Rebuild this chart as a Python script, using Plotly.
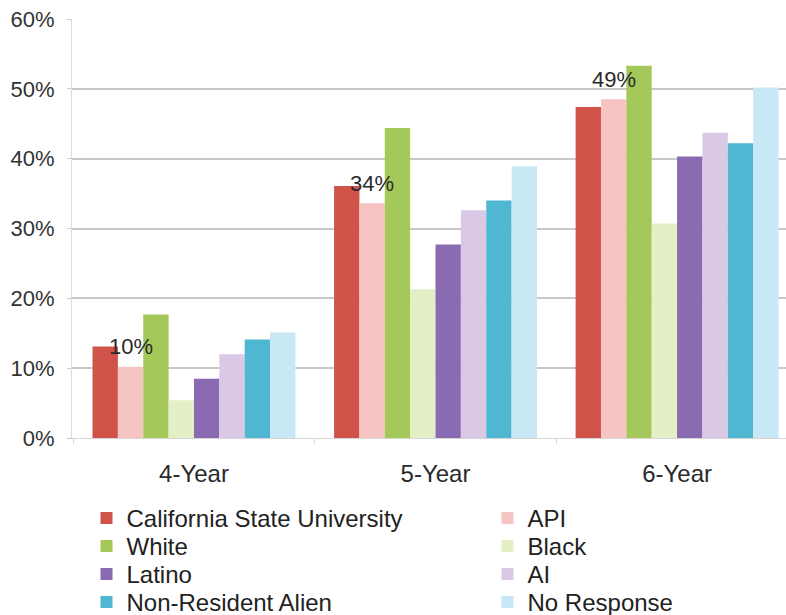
import plotly.graph_objects as go

categories = ["4-Year", "5-Year", "6-Year"]
series_names = ["California State University", "API", "White", "Black",
                "Latino", "AI", "Non-Resident Alien", "No Response"]
csu = [13.1, 36.1, 47.4]
api = [10.2, 33.6, 48.5]
white = [17.7, 44.4, 53.3]
black = [5.4, 21.3, 30.7]
latino = [8.5, 27.7, 40.3]
ai = [12.0, 32.6, 43.7]
nra = [14.1, 34.0, 42.2]
no_response = [15.1, 38.9, 50.2]
api_labels = ["10%", "34%", "49%"]
y_ticks = [0, 10, 20, 30, 40, 50, 60]
y_tick_labels = ["0%", "10%", "20%", "30%", "40%", "50%", "60%"]

series_values = [csu, api, white, black, latino, ai, nra, no_response]
colors = ["#d0534a", "#f6c4c2", "#a4c859", "#e4efc6",
          "#8a6bb1", "#dac9e4", "#50b7d3", "#c8e8f6"]

FONT = "Liberation Sans, Arial, sans-serif"
W, H = 786, 615
# plot area in page pixels
P_LEFT, P_TOP, P_BOTTOM, P_RIGHT = 72, 19, 438, 786
ml, mt, mb, mr = P_LEFT, P_TOP, H - P_BOTTOM, W - P_RIGHT
plot_w, plot_h = P_RIGHT - P_LEFT, P_BOTTOM - P_TOP
xr = [-0.505, 2.451]
bargap = 0.16

# legend layout: two columns, four rows (row-major order), page pixels
leg_text_x = [127, 528]
leg_row_center = [518, 546, 574, 602]
leg_font = 24
leg_item_h = leg_font * 1.3 + 3
leg_text_offset = 40.5

fig = go.Figure()
legend_layouts = {}
for i, (name, vals, col) in enumerate(zip(series_names, series_values, colors)):
    lname = "legend" if i == 0 else f"legend{i + 1}"
    fig.add_trace(go.Bar(name=name, x=categories, y=vals, legend=lname,
                         showlegend=True,
                         marker=dict(color=col, line=dict(width=0))))
    row, c = divmod(i, 2)
    top_px = leg_row_center[row] - 5 - leg_item_h / 2
    left_px = leg_text_x[c] - leg_text_offset
    legend_layouts[lname] = dict(
        orientation="h",
        x=(left_px - P_LEFT) / plot_w, xanchor="left",
        y=(P_BOTTOM - top_px) / plot_h, yanchor="top",
        font=dict(size=leg_font, color="#222222", family=FONT),
        bgcolor="rgba(0,0,0,0)", borderwidth=0)

# data labels on API bars
px_per_unit = plot_w / (xr[1] - xr[0])
bar_w = (1 - bargap) / len(series_names)
api_idx = 1
offset_px = (api_idx - (len(series_names) - 1) / 2) * bar_w * px_per_unit
for c, v, lab in zip(categories, api, api_labels):
    fig.add_annotation(x=c, y=v, xref="x", yref="y", text=lab, showarrow=False,
                       xshift=offset_px, yshift=20, yanchor="middle",
                       font=dict(size=22, color="#2a2a2a", family=FONT))

fig.update_layout(
    width=W, height=H,
    showlegend=True,
    margin=dict(l=ml, r=mr, t=mt, b=mb, autoexpand=False),
    paper_bgcolor="white", plot_bgcolor="white",
    barmode="group", bargap=bargap, bargroupgap=0,
    font=dict(family=FONT, color="#333333"),
    xaxis=dict(range=xr, showgrid=False, showline=True, linecolor="#d6d6d6",
               linewidth=1, ticks="outside", tickson="boundaries", ticklen=5,
               tickcolor="#d6d6d6", ticklabelstandoff=14,
               tickfont=dict(size=24, color="#2a2a2a")),
    yaxis=dict(range=[0, 60], tickvals=y_ticks, ticktext=y_tick_labels,
               showgrid=True, gridcolor="#c8c8c8", gridwidth=1.5,
               showline=True, linecolor="#dcdcdc", linewidth=1,
               ticks="outside", ticklen=4, tickcolor="#c8c8c8",
               ticklabelstandoff=8, zeroline=False,
               tickfont=dict(size=22, color="#333333")),
    **legend_layouts,
)

fig.write_html("out.html",
               config={"displayModeBar": False},
               post_script="document.body.style.margin='0';"
                           "document.body.style.overflow='hidden';")
